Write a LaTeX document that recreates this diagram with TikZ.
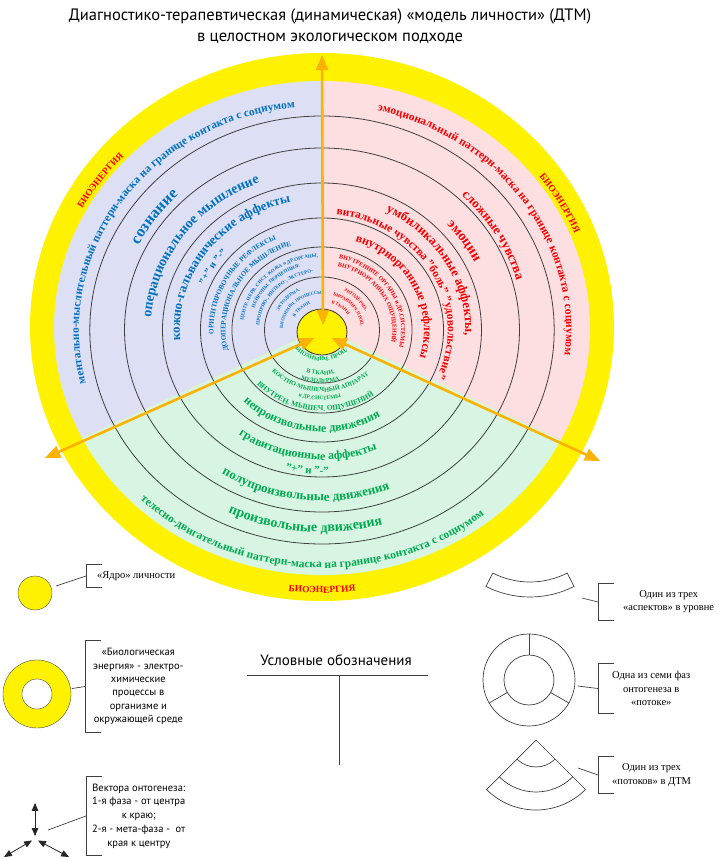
\documentclass[tikz,border=0pt]{standalone}
\usepackage{fontspec}
\setmainfont{Liberation Serif}
\newfontfamily\ptsans{PT Sans}
\usetikzlibrary{arrows}
\usetikzlibrary{decorations.text}
\definecolor{lavender}{RGB}{221,224,244}
\definecolor{pinkish}{RGB}{253,222,225}
\definecolor{mint}{RGB}{215,245,226}
\definecolor{ttblue}{RGB}{0,112,192}
\definecolor{ttred}{RGB}{245,0,0}
\definecolor{ttgreen}{RGB}{0,170,80}
\definecolor{vecorange}{RGB}{252,178,0}
\tikzstyle{ring} = [draw=black!75, line width=0.8]
\tikzstyle{vec} = [draw=vecorange, line width=2.6, <->]
\tikzstyle{smallvec} = [draw=black!85, line width=0.8, <->]
\tikzstyle{legline} = [draw=black!75, line width=0.7]
\tikzstyle{legtext} = [anchor=west, align=center, inner ysep=0, font=\fontsize{10.5}{13.3}\selectfont]
\tikzset{>={triangle 45}}
\def\kx{1.085}
% text on an arc, read clockwise (upper sectors)
\newcommand{\arcup}[5]{\path[decorate, decoration={text along path, text align=center,
    text={|\bfseries\fontsize{#2}{#2}\selectfont\color{#1}|#5}}]
    ({#4+90}:{\kx*#3} and #3) arc[start angle={#4+90}, end angle={#4-90}, x radius={\kx*#3}, y radius=#3];}
% text on an arc, read counterclockwise (lower sector)
\newcommand{\arcdn}[5]{\path[decorate, decoration={text along path, text align=center,
    text={|\bfseries\fontsize{#2}{#2}\selectfont\color{#1}|#5}}]
    ({#4-90}:{\kx*#3} and #3) arc[start angle={#4-90}, end angle={#4+90}, x radius={\kx*#3}, y radius=#3];}
\newcommand{\legbar}[1]{\draw[legline] ([xshift=16]#1.north west) -- (#1.north west) -- (#1.south west) -- ([xshift=16]#1.south west);}

\begin{document}
\begin{tikzpicture}[x=1pt, y=1pt]
  \path[use as bounding box, fill=white] (-322,-529) rectangle (398,330);
  % Title
  \node[font=\ptsans\fontsize{16.5}{21}\selectfont, align=center] (title) at (8,303.5)
    {Диагностико-терапевтическая (динамическая) «модель личности» (ДТМ)\\в целостном экологическом подходе};
  % Bioenergy band and the three streams
  \fill[yellow] (0,3) ellipse[x radius=292, y radius=274];
  \fill[lavender] (0,2) -- +(90:{\kx*247} and 247) arc[start angle=90, end angle=206.5, x radius={\kx*247}, y radius=247] -- cycle;
  \fill[pinkish] (0,2) -- +(-27:{\kx*247} and 247) arc[start angle=-27, end angle=90, x radius={\kx*247}, y radius=247] -- cycle;
  \fill[mint] (0,2) -- +(206.5:{\kx*247} and 247) arc[start angle=206.5, end angle=333, x radius={\kx*247}, y radius=247] -- cycle;
  % Phases
  \foreach \r in {53,83,112,147,182,214}
    \draw[ring] (0,0) ellipse[x radius={\kx*\r}, y radius=\r];
  % Core
  \filldraw[fill=yellow, draw=black!80, line width=0.8] (0,-2) ellipse[x radius=25, y radius=23];

  % Mental stream
  \arcup{ttblue}{11.5}{224}{146}{ментально-мыслительный паттерн-маска на границе контакта с социумом}
  \arcup{ttblue}{16}{189}{146}{сознание}
  \arcup{ttblue}{14}{158}{145}{операциональное мышление}
  \arcup{ttblue}{13}{131}{145}{кожно-гальванические аффекты}
  \arcup{ttblue}{10}{117}{150}{"+" и "-"}
  \arcup{ttblue}{7}{100}{150}{ОРИЕНТИРОВОЧНЫЕ РЕФЛЕКСЫ}
  \arcup{ttblue}{7}{89}{152}{ДООПЕРАЦИОНАЛЬНОЕ МЫШЛЕНИЕ}
  \arcup{ttblue}{5}{73}{134}{ЦЕНТР. НЕРВ. СИСТ. КОЖА и ДР.ОРГАНЫ,}
  \arcup{ttblue}{5}{66}{136}{НЕЙРОНЫ. ПЕРЦЕПЦИЯ:}
  \arcup{ttblue}{5}{58}{138}{ПРОПРИО-, ИНТЕРО-, ЭКСТЕРО-}
  \arcup{ttblue}{4.5}{44}{138}{ЭКТОДЕРМА.}
  \arcup{ttblue}{4.5}{36}{135}{БИОХИМИЧ. ПРОЦЕССЫ}
  \arcup{ttblue}{4.5}{28}{135}{В ТКАНИ}
  % Emotional stream
  \arcup{ttred}{11.5}{225}{34}{эмоциональный паттерн-маска на границе контакта с социумом}
  \arcup{ttred}{13}{186}{29}{сложные чувства}
  \arcup{ttred}{14}{156}{32}{эмоции}
  \arcup{ttred}{13}{132}{29}{умбиликальные аффекты,}
  \arcup{ttred}{11.5}{116}{29}{витальные чувства "боль" "удовольствие"}
  \arcup{ttred}{12}{94}{26}{внутриорганные рефлексы}
  \arcup{ttred}{6}{73}{31}{ВНУТРЕННИЕ ОРГАНЫ и ДР.СИСТЕМЫ}
  \arcup{ttred}{6}{65}{32}{ВНУТРИОРГАННЫХ ОЩУЩЕНИЙ}
  \arcup{ttred}{4.5}{44}{42}{ЭНТОДЕРМА.}
  \arcup{ttred}{4.5}{36}{38}{БИОХИМИЧ. ПРОЦ.}
  \arcup{ttred}{4.5}{28}{50}{В ТКАНИ}
  % Body stream
  \arcdn{ttgreen}{11.5}{238}{267}{телесно-двигательный паттерн-маска на границе контакта с социумом}
  \arcdn{ttgreen}{14}{202}{265}{произвольные движения}
  \arcdn{ttgreen}{13}{171}{264}{полупроизвольные движения}
  \arcdn{ttgreen}{11}{144}{264}{"+" и "-"}
  \arcdn{ttgreen}{12}{130}{263}{гравитационные аффекты}
  \arcdn{ttgreen}{12}{102}{263}{непроизвольные движения}
  \arcdn{ttgreen}{7.5}{81}{264}{ВНУТРЕН. МЫШЕЧ. ОЩУЩЕНИЙ}
  \arcdn{ttgreen}{5.5}{70}{268}{и ДР.СИСТЕМЫ}
  \arcdn{ttgreen}{6.3}{62}{268}{КОСТНО-МЫШЕЧНЫЙ АППАРАТ}
  \arcdn{ttgreen}{6}{53}{268}{МЕЗОДЕРМА}
  \arcdn{ttgreen}{6}{45}{268}{В ТКАНИ,}
  \arcdn{ttgreen}{6}{31}{268}{БИОХИМИЧ. ПРОЦ.}
  % Bioenergy labels
  \arcup{red}{9.5}{252}{146}{БИОЭНЕРГИЯ}
  \arcup{red}{9.5}{252}{28}{БИОЭНЕРГИЯ}
  \arcdn{red}{9.5}{263}{270}{БИОЭНЕРГИЯ}

  % Vectors of ontogenesis
  \coordinate (ctr) at (1,-4);
  \coordinate (topend) at (0,275);
  \coordinate (llend) at (-277,-128);
  \coordinate (lrend) at (278,-131);
  \draw[vec] ([yshift=9]ctr) -- (topend);
  \draw[vec] ([shift={(-8.5,-4)}]ctr) -- (llend);
  \draw[vec] ([shift={(8.5,-4)}]ctr) -- (lrend);

  % Legend
  \node[font=\ptsans\fontsize{15}{18}\selectfont] (legtitle) at (14,-330) {Условные обозначения};
  \coordinate (tl) at (-75,-345);
  \coordinate (tr) at (106,-345);
  \coordinate (tm) at (17,-345);
  \coordinate (tb) at (17,-435);
  \draw[legline] (tl) -- (tr);
  \draw[legline] (tm) -- (tb);
  % core
  \node[circle, fill=yellow, draw=black!70, minimum size=34, inner sep=0] (coreleg) at (-287,-263) {};
  \node[legtext, inner xsep=11, minimum height=22] (coretxt) at (-236,-246) {«Ядро» личности};
  \legbar{coretxt}
  \draw[legline, shorten <=5] (coreleg) -- (coretxt.west);
  % bioenergy
  \node[circle, fill=yellow, draw=black!70, minimum size=68, inner sep=0] (bioleg) at (-285,-364) {};
  \node[circle, fill=white, draw=black!70, minimum size=30, inner sep=0] (bioin) at (bioleg) {};
  \node[legtext, font=\ptsans\fontsize{10.5}{13.3}\selectfont, inner xsep=8, minimum height=91] (biotxt) at (-237,-356.5)
    {«Биологическая\\энергия» - электро-\\химические\\процессы в\\организме и\\окружающей среде};
  \legbar{biotxt}
  \draw[legline, shorten <=1] (bioleg) -- (biotxt.west);
  % vectors
  \coordinate (vc) at (-287,-509);
  \coordinate (vcup) at (-287,-473);
  \coordinate (vcll) at (-318,-527);
  \coordinate (vclr) at (-253,-527);
  \draw[smallvec] ([yshift=3]vc) -- (vcup);
  \draw[smallvec] ([shift={(-3,-1.5)}]vc) -- (vcll);
  \draw[smallvec] ([shift={(3,-1.5)}]vc) -- (vclr);
  \node[legtext, font=\ptsans\fontsize{10.5}{13.8}\selectfont, inner xsep=6, minimum height=78] (vectxt) at (-236,-486)
    {Вектора онтогенеза:\\1-я фаза - от центра\\к краю;\\2-я - мета-фаза -~~от\\края к центру};
  \legbar{vectxt}
  \coordinate (vecR) at (-274,-500);
  \draw[legline] (vecR) -- (vectxt.west);
  % aspect
  \begin{scope}[shift={(208,-170)}]
    \draw[legline] (243:97) arc[start angle=243, end angle=297, radius=97] -- (297:82)
      arc[start angle=297, end angle=243, radius=82] -- cycle;
  \end{scope}
  \coordinate (aspR) at (260,-268);
  \node[legtext, inner xsep=25, minimum height=36] (asptxt) at (276,-272) {Один из трех\\«аспектов» в уровне};
  \legbar{asptxt}
  \draw[legline] (aspR) -- (asptxt.west);
  % phase
  \node[circle, draw=black!75, line width=0.7, minimum size=92, inner sep=0] (ringleg) at (207,-350) {};
  \node[circle, draw=black!75, line width=0.7, minimum size=50, inner sep=0] (ringin) at (ringleg) {};
  \foreach \a in {90,210,330}
    \draw[legline] (ringin.\a) -- (ringleg.\a);
  \node[legtext, inner xsep=14, minimum height=49] (ringtxt) at (276,-358.5) {Одна из семи фаз\\онтогенеза в\\«потоке»};
  \legbar{ringtxt}
  \draw[legline, shorten <=3] (ringleg) -- (ringtxt.west);
  % stream
  \begin{scope}[shift={(214,-410)}]
    \draw[legline] (0,0) -- (225:70) arc[start angle=225, end angle=315, radius=70] -- cycle;
    \draw[legline] (225:52) arc[start angle=225, end angle=315, radius=52];
    \draw[legline] (225:27) arc[start angle=225, end angle=315, radius=27];
  \end{scope}
  \coordinate (strR) at (256,-438);
  \node[legtext, inner xsep=14, minimum height=36] (strtxt) at (276,-445) {Один из трех\\«потоков» в ДТМ};
  \legbar{strtxt}
  \draw[legline] (strR) -- (strtxt.west);
\end{tikzpicture}
\end{document}
